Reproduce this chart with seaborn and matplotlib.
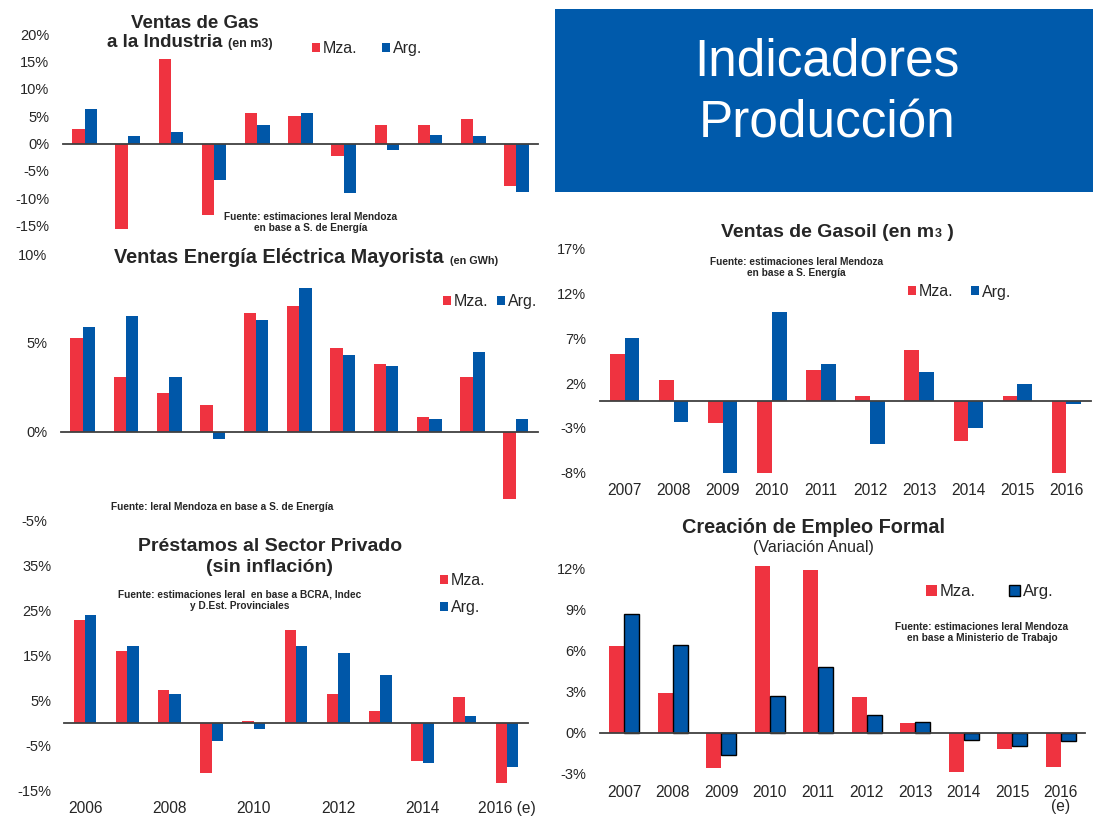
import numpy as np
import pandas as pd
import seaborn as sns
import matplotlib.pyplot as plt
from matplotlib.patches import Patch, Rectangle

# datos (variacion % anual)
anios_a = ['2006', '2007', '2008', '2009', '2010', '2011', '2012', '2013', '2014', '2015', '2016']
anios_b = ['2007', '2008', '2009', '2010', '2011', '2012', '2013', '2014', '2015', '2016']

gas_mza = [2.7, -15.6, 15.4, -13.1, 5.6, 5.0, -2.2, 3.3, 3.3, 4.4, -7.8]
gas_arg = [6.4, 1.3, 2.1, -6.7, 3.3, 5.6, -9.0, -1.2, 1.6, 1.3, -8.8]

elec_mza = [5.3, 3.1, 2.2, 1.5, 6.7, 7.1, 4.7, 3.8, 0.8, 3.1, -3.8]
elec_arg = [5.9, 6.5, 3.1, -0.4, 6.3, 8.1, 4.3, 3.7, 0.7, 4.5, 0.7]

prest_mza = [23.0, 16.0, 7.3, -11.3, 0.3, 20.7, 6.3, 2.7, -8.5, 5.7, -13.4]
prest_arg = [24.1, 17.1, 6.3, -4.0, -1.3, 17.1, 15.5, 10.7, -8.9, 1.4, -9.9]
prest_labels = ['2006', '', '2008', '', '2010', '', '2012', '', '2014', '', '2016 (e)']

gasoil_mza = [5.2, 2.4, -2.5, -8.0, 3.5, 0.6, 5.7, -4.5, 0.6, -8.0]
gasoil_arg = [7.0, -2.3, -8.0, 9.9, 4.1, -4.8, 3.2, -3.0, 1.9, -0.3]
gasoil_labels = anios_b

empleo_mza = [6.3, 2.9, -2.6, 12.2, 11.9, 2.6, 0.7, -2.9, -1.2, -2.5]
empleo_arg = [8.7, 6.4, -1.6, 2.7, 4.8, 1.3, 0.8, -0.5, -1.0, -0.6]
empleo_labels = ['2007', '2008', '2009', '2010', '2011', '2012', '2013', '2014', '2015', '2016\n(e)']

W, H = 1093, 817
RED = '#EF3340'
BLUE = '#0057A8'
TXT = '#262626'
AXC = '#404040'

sns.set_style('white')
plt.rcParams['font.family'] = ['Liberation Sans', 'DejaVu Sans']

fig = plt.figure(figsize=(W / 100, H / 100), dpi=100)


def fx(x):
    return x / W


def fy(y):
    return 1 - y / H


def ejes(x0, y0, x1, y1):
    return fig.add_axes([fx(x0), fy(y1), (x1 - x0) / W, (y1 - y0) / H])


def barras(ax, anios, mza, arg, ancho, ylim, yticks, ypad, xlabels=None, xpad=8, borde=False):
    n = len(anios)
    df = pd.DataFrame({'anio': anios * 2,
                       'valor': mza + arg,
                       'serie': ['Mza.'] * n + ['Arg.'] * n})
    sns.barplot(data=df, x='anio', y='valor', hue='serie', hue_order=['Mza.', 'Arg.'],
                palette={'Mza.': RED, 'Arg.': BLUE}, width=ancho, saturation=1,
                errorbar=None, linewidth=0, legend=False, ax=ax)
    if borde:
        for p in ax.containers[1]:
            p.set_edgecolor('black')
            p.set_linewidth(1.0)
    ax.set_xlim(-0.5, n - 0.5)
    ax.set_ylim(ylim)
    ax.set_xlabel('')
    ax.set_ylabel('')
    for s in ['top', 'right', 'left']:
        ax.spines[s].set_visible(False)
    ax.spines['bottom'].set_position(('data', 0))
    ax.spines['bottom'].set_color(AXC)
    ax.spines['bottom'].set_linewidth(1.3)
    ax.set_xticks(range(n))
    ax.set_xticklabels([])
    ax.tick_params(axis='x', which='major', length=0)
    ax.set_xticks(np.arange(-0.5, n, 1), minor=True)
    ax.tick_params(axis='x', which='minor', length=4, width=1, color=AXC, direction='out')
    ax.set_yticks(yticks, labels=['%d%%' % t for t in yticks])
    ax.tick_params(axis='y', length=0, pad=ypad, labelsize=10.5, labelcolor=TXT)
    ax.patch.set_alpha(0)
    if xlabels is not None:
        sec = ax.secondary_xaxis('bottom')
        sec.set_xticks(range(n), labels=xlabels)
        sec.tick_params(length=0, pad=xpad, labelsize=11.2, labelcolor=TXT)
        sec.spines['bottom'].set_visible(False)
        for lbl in sec.get_xticklabels():
            lbl.set_linespacing(0.95)


def leyenda(ax, x, y, fs, ncol, colsp, hlen, lsp=0.5, borde=None):
    handles = [Patch(facecolor=RED, edgecolor='none'),
               Patch(facecolor=BLUE, edgecolor=borde if borde else 'none', linewidth=1)]
    ax.legend(handles, ['Mza.', 'Arg.'], loc='center left', bbox_to_anchor=(fx(x), fy(y)),
              bbox_transform=fig.transFigure, ncol=ncol, frameon=False, fontsize=fs,
              handlelength=hlen, handleheight=hlen, handletextpad=0.2, columnspacing=colsp,
              labelspacing=lsp, borderpad=0, borderaxespad=0, labelcolor=TXT)


def fuente(x, y, texto, fs=7.3):
    fig.text(fx(x), fy(y), texto, ha='center', va='center', fontsize=fs,
             weight='bold', color=TXT, linespacing=1.15)


# cuadro de titulo
fig.add_artist(Rectangle((fx(555), fy(192)), (W - 555) / W, (192 - 9) / H,
                         transform=fig.transFigure, facecolor='#005AAB', edgecolor='none'))
fig.text(fx(827), fy(76), 'Indicadores', ha='center', va='baseline', fontsize=37, color='white')
fig.text(fx(827), fy(137), 'Producción', ha='center', va='baseline', fontsize=37, color='white')

# 1) Ventas de gas a la industria
ax1 = ejes(63, 34.2, 538, 231)
barras(ax1, anios_a, gas_mza, gas_arg, 0.57, (-16, 20), [-15, -10, -5, 0, 5, 10, 15, 20], 10)
fig.text(fx(195), fy(27.7), 'Ventas de Gas', ha='center', va='baseline',
         fontsize=13.5, weight='bold', color=TXT)
t1 = fig.text(fx(107), fy(46.7), 'a la Industria', ha='left', va='baseline',
              fontsize=13.5, weight='bold', color=TXT)
ax1.annotate('(en m3)', xy=(1, 0), xycoords=t1, xytext=(4, 0.5), textcoords='offset points',
             ha='left', va='bottom', fontsize=9, weight='bold', color=TXT, annotation_clip=False)
leyenda(ax1, 312, 48.7, 11.5, 2, 1.5, 0.5)
fuente(311, 222.2, 'Fuente: estimaciones Ieral Mendoza\nen base a S. de Energía')

# 2) Ventas energia electrica
ax2 = ejes(61, 254, 537.5, 520.5)
barras(ax2, anios_a, elec_mza, elec_arg, 0.57, (-5, 10), [-5, 0, 5, 10], 10)
t2 = fig.text(fx(114), fy(263), 'Ventas Energía Eléctrica Mayorista', ha='left', va='baseline',
              fontsize=14.3, weight='bold', color=TXT)
ax2.annotate('(en GWh)', xy=(1, 0), xycoords=t2, xytext=(4.5, 0.5), textcoords='offset points',
             ha='left', va='bottom', fontsize=7.8, weight='bold', color=TXT, annotation_clip=False)
leyenda(ax2, 443, 301.5, 11.5, 2, 0.5, 0.5)
fuente(222, 506.7, 'Fuente: Ieral Mendoza en base a S. de Energía')

# 3) Prestamos al sector privado
ax3 = ejes(64, 565.7, 528, 790)
barras(ax3, anios_a, prest_mza, prest_arg, 0.54, (-15, 35), [-15, -5, 5, 15, 25, 35], 9,
       xlabels=prest_labels, xpad=8)
fig.text(fx(270), fy(551), 'Préstamos al Sector Privado', ha='center', va='baseline',
         fontsize=14, weight='bold', color=TXT)
fig.text(fx(270), fy(571.7), '(sin inflación)', ha='center', va='baseline',
         fontsize=14, weight='bold', color=TXT)
leyenda(ax3, 440, 594.3, 11.5, 1, 0.5, 0.5, lsp=0.75)
fuente(239.5, 600.2, 'Fuente: estimaciones Ieral  en base a BCRA, Indec\ny D.Est. Provinciales')

# 4) Ventas de gasoil
ax4 = ejes(600, 248.7, 1091, 472.7)
barras(ax4, anios_b, gasoil_mza, gasoil_arg, 0.6, (-8, 17), [-8, -3, 2, 7, 12, 17], 10,
       xlabels=gasoil_labels, xpad=7.5)
t4 = fig.text(fx(721), fy(236.7), 'Ventas de Gasoil (en m', ha='left', va='baseline',
              fontsize=14, weight='bold', color=TXT)
a4 = ax4.annotate('3', xy=(1, 0), xycoords=t4, xytext=(0.5, 0.8), textcoords='offset points',
                  ha='left', va='bottom', fontsize=9, weight='bold', color=TXT, annotation_clip=False)
ax4.annotate(' )', xy=(1, 0), xycoords=(a4, t4), xytext=(0, 0), textcoords='offset points',
             ha='left', va='bottom', fontsize=14, weight='bold', color=TXT, annotation_clip=False)
leyenda(ax4, 907.7, 292, 11.5, 2, 1.1, 0.5)
fuente(796.5, 267.2, 'Fuente: estimaciones Ieral Mendoza\nen base a S. Energía')

# 5) Creacion de empleo formal
ax5 = ejes(600, 565.6, 1085, 776.5)
barras(ax5, anios_b, empleo_mza, empleo_arg, 0.62, (-3.2, 12.2), [-3, 0, 3, 6, 9, 12], 10,
       xlabels=empleo_labels, xpad=6, borde=True)
fig.text(fx(813.5), fy(532.7), 'Creación de Empleo Formal', ha='center', va='baseline',
         fontsize=14.3, weight='bold', color=TXT)
fig.text(fx(813), fy(551.7), '(Variación Anual)', ha='center', va='baseline',
         fontsize=11.5, color=TXT)
leyenda(ax5, 925.7, 591.5, 12, 2, 2.0, 0.65, borde='black')
fuente(982, 632.5, 'Fuente: estimaciones Ieral Mendoza\nen base a Ministerio de Trabajo')

fig.savefig('out.png', dpi=100)
